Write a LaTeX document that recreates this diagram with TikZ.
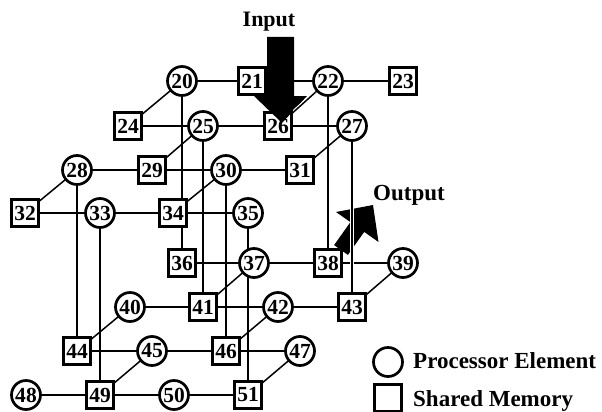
\documentclass[tikz,border=0pt]{standalone}
\usepackage{fontspec}
\setmainfont{Liberation Serif}
\usetikzlibrary{backgrounds}
\begin{document}
\begin{tikzpicture}[x=1pt,y=-1pt,
  numfont/.style={font=\fontsize{21.5}{21.5}\selectfont\bfseries},
  pe/.style={circle,draw,line width=2.7pt,fill=white,minimum size=29pt,inner sep=0pt,numfont},
  sm/.style={rectangle,draw,line width=3.2pt,fill=white,minimum size=27.5pt,inner sep=0pt,numfont},
  link/.style={line width=1.5pt},
  casedlink/.style={line width=1.5pt,preaction={draw,white,line width=3.8pt}},
  lbl/.style={font=\fontsize{23}{23}\selectfont\bfseries,inner sep=0pt}
]
\useasboundingbox (0,0) rectangle (602,412);

% upper layer
\node[pe] (n20) at (182,81) {20};
\node[sm] (n21) at (252,81) {21};
\node[pe] (n22) at (328,81) {22};
\node[sm] (n23) at (403,81) {23};
\node[sm] (n24) at (128,126) {24};
\node[pe] (n25) at (203,126) {25};
\node[sm] (n26) at (278,126) {26};
\node[pe] (n27) at (352,126) {27};
\node[pe] (n28) at (77,170) {28};
\node[sm] (n29) at (152,170) {29};
\node[pe] (n30) at (226,170) {30};
\node[sm] (n31) at (300,170) {31};
\node[sm] (n32) at (25,213) {32};
\node[pe] (n33) at (100,213) {33};
\node[sm] (n34) at (173,213) {34};
\node[pe] (n35) at (248,213) {35};
% lower layer
\node[sm] (n36) at (182,263) {36};
\node[pe] (n37) at (254,263) {37};
\node[sm] (n38) at (328,263) {38};
\node[pe] (n39) at (403,263) {39};
\node[pe] (n40) at (130,307) {40};
\node[sm] (n41) at (203,307) {41};
\node[pe] (n42) at (278,307) {42};
\node[sm] (n43) at (352,307) {43};
\node[sm] (n44) at (77,351) {44};
\node[pe] (n45) at (152,351) {45};
\node[sm] (n46) at (226,351) {46};
\node[pe] (n47) at (300,351) {47};
\node[pe] (n48) at (26,395) {48};
\node[sm] (n49) at (100,395) {49};
\node[pe] (n50) at (174,395) {50};
\node[sm] (n51) at (248,395) {51};

\begin{pgfonlayer}{background}
  % links along each row
  \foreach \a in {20,24,28,32,36,40,44,48} {
    \pgfmathtruncatemacro\b{\a+1}
    \pgfmathtruncatemacro\c{\a+2}
    \pgfmathtruncatemacro\d{\a+3}
    \draw[link] (n\a.center) -- (n\b.center) -- (n\c.center) -- (n\d.center);
  }
  % links in depth, from each element to the memory in front of it
  \foreach \a/\b in {20/24,22/26,25/29,27/31,28/32,30/34,
                     37/41,39/43,40/44,42/46,45/49,47/51}
    \draw[link] (n\a.center) -- (n\b.center);
  % links between the two layers
  \foreach \a/\b in {20/36,22/38,25/41,27/43,28/44,30/46,33/49,35/51}
    \draw[link] (n\a.center) -- (n\b.center);
  % output arrow
  \fill (334.1,245.1) -- (350.4,222.1) -- (336,212) -- (373,205)
        -- (378.5,242) -- (364.2,231.9) -- (347.9,254.9) -- cycle;
  \draw[casedlink] (n27) -- (n43);
\end{pgfonlayer}

% input arrow
\fill (267,37) -- (294,37) -- (294,96) -- (307,96) -- (282,123)
      -- (254,96) -- (267,96) -- cycle;
\draw[casedlink,shorten <=1pt,shorten >=1pt] (n22) -- (n26);

\node[lbl,font=\fontsize{22}{22}\selectfont\bfseries,anchor=base] (inlbl) at (269,27) {Input};
\node[lbl,anchor=base west] (outlbl) at (373,200) {Output};

% legend
\node[pe] (keype) at (388,362) {};
\node[sm] (keysm) at (388,398) {};
\node[lbl,anchor=base west] (keypetext) at (413,368) {Processor Element};
\node[lbl,anchor=base west] (keysmtext) at (413,406) {Shared Memory};
\end{tikzpicture}
\end{document}
